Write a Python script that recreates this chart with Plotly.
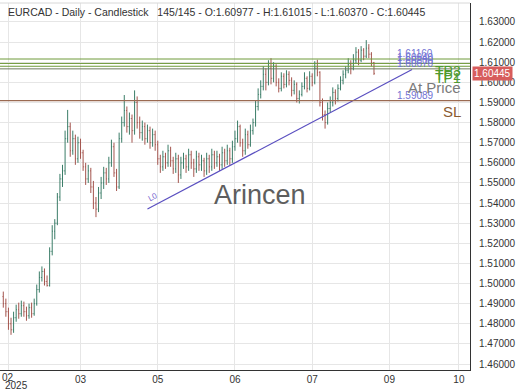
import plotly.graph_objects as go

# ---------------- data ----------------
opens = [1.4935,1.4900,1.4860,1.4800,1.4770,1.4830,1.4870,1.4850,1.4890,1.4860,
         1.4840,1.4880,1.4850,1.4900,1.4970,1.5030,1.5060,1.5010,1.4990,1.5160,
         1.5260,1.5300,1.5430,1.5520,1.5560,1.5720,1.5780,1.5660,1.5720,1.5620,
         1.5700,1.5650,1.5580,1.5520,1.5560,1.5480,1.5400,1.5370,1.5450,1.5500,
         1.5550,1.5520,1.5600,1.5680,1.5550,1.5480,1.5720,1.5800,1.5860,1.5780,
         1.5820,1.5760,1.5900,1.5800,1.5750,1.5780,1.5720,1.5760,1.5700,1.5740,
         1.5690,1.5620,1.5580,1.5630,1.5600,1.5660,1.5610,1.5570,1.5620,1.5540,
         1.5600,1.5620,1.5580,1.5640,1.5600,1.5570,1.5630,1.5590,1.5610,1.5560,
         1.5620,1.5580,1.5640,1.5600,1.5630,1.5590,1.5650,1.5610,1.5660,1.5620,
         1.5680,1.5720,1.5780,1.5700,1.5660,1.5740,1.5690,1.5760,1.5800,1.5880,
         1.5940,1.5980,1.6040,1.6000,1.6070,1.6020,1.6080,1.6000,1.5970,1.6030,
         1.5990,1.6040,1.6010,1.5960,1.5990,1.5920,1.5940,1.5980,1.6020,1.5970,
         1.6030,1.6000,1.6070,1.6050,1.5900,1.5840,1.5800,1.5870,1.5900,1.5950,
         1.5920,1.5970,1.6010,1.6040,1.6060,1.6090,1.6070,1.6110,1.6150,1.6110,
         1.6160,1.6130,1.6170,1.6140,1.60977]
highs = [1.4960,1.4925,1.4880,1.4830,1.4860,1.4895,1.4905,1.4915,1.4910,1.4885,
         1.4900,1.4905,1.4925,1.4995,1.5060,1.5085,1.5075,1.5040,1.5180,1.5290,
         1.5320,1.5450,1.5545,1.5590,1.5760,1.5863,1.5800,1.5760,1.5740,1.5730,
         1.5720,1.5665,1.5600,1.5590,1.5575,1.5510,1.5430,1.5480,1.5530,1.5580,
         1.5575,1.5630,1.5715,1.5700,1.5570,1.5750,1.5830,1.5937,1.5880,1.5850,
         1.5840,1.5960,1.5930,1.5830,1.5810,1.5800,1.5790,1.5780,1.5770,1.5760,
         1.5710,1.5640,1.5660,1.5650,1.5690,1.5680,1.5630,1.5650,1.5640,1.5630,
         1.5650,1.5640,1.5670,1.5660,1.5620,1.5660,1.5650,1.5640,1.5625,1.5650,
         1.5640,1.5670,1.5660,1.5660,1.5645,1.5680,1.5670,1.5690,1.5675,1.5710,
         1.5760,1.5810,1.5790,1.5720,1.5770,1.5760,1.5790,1.5820,1.5910,1.5970,
         1.6010,1.6080,1.6070,1.6110,1.6120,1.6100,1.6090,1.6020,1.6050,1.6045,
         1.6060,1.6055,1.6025,1.6010,1.6000,1.5960,1.6000,1.6050,1.6030,1.6055,
         1.6045,1.6105,1.6112,1.6055,1.5920,1.5860,1.5900,1.5930,1.5975,1.5965,
         1.5990,1.6030,1.6060,1.6080,1.6120,1.6110,1.6140,1.6175,1.6165,1.6180,
         1.6170,1.6210,1.6190,1.6150,1.61015]
lows = [1.4880,1.4835,1.4770,1.4745,1.4755,1.4810,1.4825,1.4835,1.4835,1.4815,
        1.4825,1.4830,1.4840,1.4890,1.4955,1.5010,1.4990,1.4985,1.4985,1.5140,
        1.5220,1.5290,1.5410,1.5480,1.5540,1.5700,1.5630,1.5640,1.5590,1.5600,
        1.5620,1.5560,1.5490,1.5500,1.5450,1.5370,1.5330,1.5355,1.5420,1.5470,
        1.5490,1.5500,1.5580,1.5530,1.5460,1.5470,1.5700,1.5780,1.5750,1.5740,
        1.5700,1.5740,1.5770,1.5720,1.5710,1.5690,1.5700,1.5670,1.5680,1.5660,
        1.5590,1.5550,1.5560,1.5570,1.5580,1.5580,1.5545,1.5550,1.5500,1.5520,
        1.5570,1.5550,1.5560,1.5570,1.5530,1.5550,1.5560,1.5560,1.5530,1.5540,
        1.5550,1.5560,1.5570,1.5580,1.5560,1.5570,1.5580,1.5590,1.5590,1.5600,
        1.5660,1.5700,1.5680,1.5630,1.5640,1.5670,1.5680,1.5740,1.5780,1.5860,
        1.5920,1.5960,1.5960,1.5985,1.5990,1.6000,1.5980,1.5950,1.5955,1.5970,
        1.5975,1.5985,1.5930,1.5940,1.5900,1.5895,1.5930,1.5965,1.5950,1.5960,
        1.5980,1.5990,1.6030,1.5880,1.5810,1.5770,1.5790,1.5850,1.5880,1.5890,
        1.5905,1.5960,1.5990,1.6020,1.6045,1.6040,1.6060,1.6095,1.6085,1.6100,
        1.6110,1.6120,1.6120,1.6080,1.60370]
closes = [1.4900,1.4860,1.4800,1.4770,1.4830,1.4870,1.4850,1.4890,1.4860,1.4840,
          1.4880,1.4850,1.4900,1.4970,1.5030,1.5060,1.5010,1.4990,1.5160,1.5260,
          1.5300,1.5430,1.5520,1.5560,1.5720,1.5780,1.5660,1.5720,1.5620,1.5700,
          1.5650,1.5580,1.5520,1.5560,1.5480,1.5400,1.5370,1.5450,1.5500,1.5550,
          1.5520,1.5600,1.5680,1.5550,1.5480,1.5720,1.5800,1.5860,1.5780,1.5820,
          1.5760,1.5900,1.5800,1.5750,1.5780,1.5720,1.5760,1.5700,1.5740,1.5690,
          1.5620,1.5580,1.5630,1.5600,1.5660,1.5610,1.5570,1.5620,1.5540,1.5600,
          1.5620,1.5580,1.5640,1.5600,1.5570,1.5630,1.5590,1.5610,1.5560,1.5620,
          1.5580,1.5640,1.5600,1.5630,1.5590,1.5650,1.5610,1.5660,1.5620,1.5680,
          1.5720,1.5780,1.5700,1.5660,1.5740,1.5690,1.5760,1.5800,1.5880,1.5940,
          1.5980,1.6040,1.6000,1.6070,1.6020,1.6080,1.6000,1.5970,1.6030,1.5990,
          1.6040,1.6010,1.5960,1.5990,1.5920,1.5940,1.5980,1.6020,1.5970,1.6030,
          1.6000,1.6070,1.6050,1.5900,1.5840,1.5800,1.5870,1.5900,1.5950,1.5920,
          1.5970,1.6010,1.6040,1.6060,1.6090,1.6070,1.6110,1.6150,1.6110,1.6160,
          1.6130,1.6170,1.6140,1.6098,1.60445]
bar_index = list(range(len(closes)))

x_tick_pos = [2, 30, 60, 90, 120, 150, 177]
x_tick_text = ["", "03", "05", "06", "07", "09", "10"]
first_tick_month = "02"
first_tick_year = "2025"

tp_levels = [1.61160, 1.60940, 1.60800]
tp_names = ["TP3", "TP2", "TP1"]
entry_level = 1.60670
sl_level = 1.59089
last_price = 1.60445

trend_x = [56.0, 158.8]
trend_y = [1.53705, 1.60639]

title_text = ("EURCAD - Daily - Candlestick   145/145 - O:1.60977 - "
              "H:1.61015 - L:1.60370 - C:1.60445")

FONT = "Arial, Liberation Sans, sans-serif"

fig = go.Figure()
fig.add_trace(go.Ohlc(
    x=bar_index, open=opens, high=highs, low=lows, close=closes,
    increasing=dict(line=dict(color="#3b7d68", width=1)),
    decreasing=dict(line=dict(color="#a4554e", width=1)),
    tickwidth=0.3, showlegend=False, hoverinfo="skip"))

# trend line
fig.add_trace(go.Scatter(x=trend_x, y=trend_y, mode="lines",
                         line=dict(color="#5a4fc0", width=1.2),
                         showlegend=False, hoverinfo="skip"))

shapes = []
for lv in tp_levels:
    shapes.append(dict(type="line", xref="paper", x0=0, x1=1, yref="y",
                       y0=lv, y1=lv, line=dict(color="#6f9a3a", width=1)))
shapes.append(dict(type="line", xref="paper", x0=0, x1=1, yref="y",
                   y0=entry_level, y1=entry_level,
                   line=dict(color="#6e7a60", width=1)))
shapes.append(dict(type="line", xref="paper", x0=0, x1=1, yref="y",
                   y0=sl_level, y1=sl_level, line=dict(color="#9a6a52", width=1.3)))
shapes.append(dict(type="line", xref="paper", x0=0, x1=1, yref="paper",
                   y0=1, y1=1, line=dict(color="#d8d8d8", width=1)))

annotations = []
annotations.append(dict(text=title_text, xref="paper", yref="paper", x=0, y=1,
                        xanchor="left", yanchor="top", xshift=6, yshift=-0.5,
                        showarrow=False, font=dict(family=FONT, size=10.5, color="#333333")))
annotations.append(dict(text="Arincen", xref="paper", yref="paper", x=0.553, y=0.478,
                        xanchor="center", yanchor="middle", showarrow=False,
                        font=dict(family=FONT, size=27, color="#5e5e5e")))
for lv in tp_levels + [entry_level, sl_level]:
    annotations.append(dict(text=f"{lv:.5f}", x=152.3, y=lv, xanchor="left",
                            yanchor="bottom", showarrow=False, yshift=-2,
                            font=dict(family=FONT, size=10, color="#7272d4")))
for lv, nm in zip(tp_levels, tp_names):
    annotations.append(dict(text=nm, x=178.6, y=lv, xanchor="right", yanchor="top",
                            showarrow=False, yshift=-2,
                            font=dict(family=FONT, size=14, color="#4f9a30")))
annotations.append(dict(text="At Price", x=178.6, y=1.5975, xanchor="right",
                        yanchor="middle", showarrow=False,
                        font=dict(family=FONT, size=15, color="#7a7a7a")))
annotations.append(dict(text="SL", x=178.6, y=sl_level, xanchor="right",
                        yanchor="top", showarrow=False, yshift=0,
                        font=dict(family=FONT, size=15, color="#8a5a30")))
annotations.append(dict(text="L0", x=57.8, y=1.5430, showarrow=False, textangle=-28,
                        font=dict(family=FONT, size=8, color="#7a6ad0")))
annotations.append(dict(text=f"{last_price:.5f}", xref="paper", x=1, y=last_price,
                        xanchor="left", yanchor="middle", xshift=2, showarrow=False,
                        bgcolor="#d75c5c", borderpad=1,
                        font=dict(family=FONT, size=10, color="#ffffff")))
for lv in [1.64, 1.45]:
    annotations.append(dict(text=f"{lv:.5f}", xref="paper", x=1, y=lv,
                            xanchor="left", yanchor="middle", xshift=6,
                            showarrow=False,
                            font=dict(family=FONT, size=10, color="#333333")))
annotations.append(dict(text=first_tick_month, xref="x", yref="paper", x=1.9, y=0,
                        xanchor="center", yanchor="middle", yshift=-7,
                        showarrow=False,
                        font=dict(family=FONT, size=10, color="#333333")))
annotations.append(dict(text=first_tick_year, xref="x", yref="paper", x=-0.3, y=0,
                        xanchor="left", yanchor="middle", yshift=-15,
                        showarrow=False,
                        font=dict(family=FONT, size=10, color="#333333")))

fig.update_layout(
    width=520, height=390,
    margin=dict(l=0, r=50, t=3, b=20),
    paper_bgcolor="white", plot_bgcolor="white",
    font=dict(family=FONT, size=10, color="#333333"),
    shapes=shapes, annotations=annotations,
    xaxis=dict(range=[-1.28, 181.3], rangeslider=dict(visible=False),
               tickmode="array", tickvals=x_tick_pos, ticktext=x_tick_text,
               showgrid=True, gridcolor="#e6e6e6", gridwidth=1,
               showline=True, linecolor="#333333", linewidth=1,
               ticks="", zeroline=False, tickfont=dict(size=10, color="#333333")),
    yaxis=dict(side="right", range=[1.45702, 1.63944], dtick=0.01, tick0=1.46,
               tickformat=".5f", showgrid=True, gridcolor="#e6e6e6", gridwidth=1,
               showline=True, linecolor="#333333", linewidth=1,
               ticks="", ticklabelstandoff=6, zeroline=False,
               tickfont=dict(size=10, color="#333333")),
)

fig.write_html("out.html", config={"displayModeBar": False},
               post_script="document.body.style.margin='0';document.body.style.overflow='hidden';")
